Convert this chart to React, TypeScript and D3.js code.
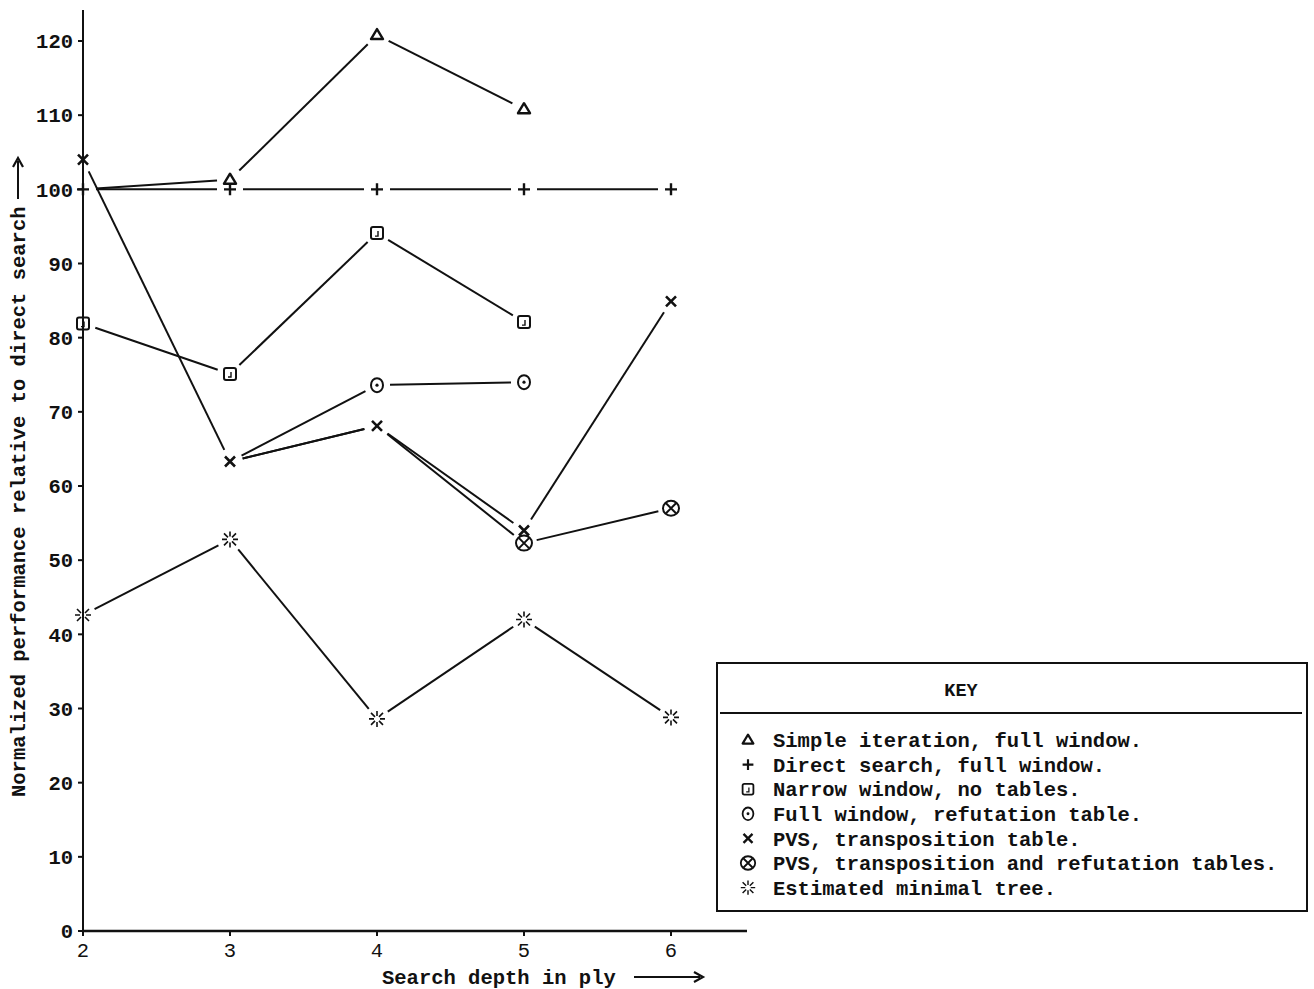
import React from 'react';
import * as d3 from 'd3';

// search depth (ply)
const depths = [2, 3, 4, 5, 6];
const yTicks = [0, 10, 20, 30, 40, 50, 60, 70, 80, 90, 100, 110, 120];

// normalized performance, null = not measured
const simpleIteration = [100, 101.3, 120.8, 110.8, null];
const directSearch = [100, 100, 100, 100, 100];
const narrowWindow = [81.9, 75.1, 94.1, 82.1, null];
const refutationTable = [null, 63.3, 73.6, 74.0, null];
const pvsTransposition = [104, 63.3, 68.1, 54.0, 84.9];
const pvsBothTables = [null, 63.3, 68.1, 52.3, 57.0];
const minimalTree = [42.6, 52.8, 28.6, 42.0, 28.8];

const legendLabels = [
  'Simple iteration, full window.',
  'Direct search, full window.',
  'Narrow window, no tables.',
  'Full window, refutation table.',
  'PVS, transposition table.',
  'PVS, transposition and refutation tables.',
  'Estimated minimal tree.',
];

const series = [
  { values: simpleIteration, marker: 'triangle', hidden: [2] },
  { values: directSearch, marker: 'plus', hidden: [] },
  { values: narrowWindow, marker: 'square', hidden: [] },
  { values: refutationTable, marker: 'circle', hidden: [3] },
  { values: pvsTransposition, marker: 'cross', hidden: [] },
  { values: pvsBothTables, marker: 'circlecross', hidden: [3, 4] },
  { values: minimalTree, marker: 'star', hidden: [] },
];

const FONT = '"Liberation Mono", "DejaVu Sans Mono", monospace';
const INK = '#111';
const FS = 20.5;

function Marker({ type, x, y, s = 1 }: { type: string; x: number; y: number; s?: number }) {
  const g = (children: React.ReactNode) => (
    <g transform={`translate(${x},${y}) scale(${s})`} stroke={INK} fill="none" strokeWidth={2}>
      {children}
    </g>
  );
  switch (type) {
    case 'triangle':
      return g(<path d="M0,-6 L6,4 L-6,4 Z" strokeLinejoin="round" strokeWidth={2.4} />);
    case 'plus':
      return g(<path d="M-6,0 H6 M0,-6 V6" strokeWidth={2.4} />);
    case 'square':
      return g(<>
        <rect x={-6} y={-6} width={12} height={12} rx={2} />
        <path d="M1,-2 V3 H-2" strokeWidth={1.4} />
      </>);
    case 'circle':
      return g(<>
        <ellipse rx={6} ry={7} />
        <circle r={1.6} fill={INK} stroke="none" />
      </>);
    case 'cross':
      return g(<path d="M-5,-5 L5,5 M5,-5 L-5,5" strokeWidth={2.6} />);
    case 'circlecross':
      return g(<>
        <ellipse rx={8} ry={7.5} />
        <path d="M-5,-5 L5,5 M5,-5 L-5,5" strokeWidth={2} />
      </>);
    case 'star':
      return g(<path
        d="M0,-8 V-3 M0,3 V8 M-8,0 H-3 M3,0 H8 M-6,-6 L-2,-2 M2,2 L6,6 M6,-6 L2,-2 M-2,2 L-6,6"
        strokeWidth={1.6} />);
    default:
      return null;
  }
}

export default function App() {
  const width = 1314;
  const height = 989;

  const x = d3.scaleLinear().domain([2, 6.5]).range([83, 744.5]);
  const y = d3.scaleLinear().domain([0, 120]).range([931, 41]);

  const gap = 13;
  const line = d3.line();
  const segs = (vals: (number | null)[]) => {
    const out: string[] = [];
    for (let i = 0; i < vals.length - 1; i++) {
      const a = vals[i], b = vals[i + 1];
      if (a == null || b == null) continue;
      const x1 = x(depths[i]), y1 = y(a), x2 = x(depths[i + 1]), y2 = y(b);
      const len = Math.hypot(x2 - x1, y2 - y1);
      const ux = (x2 - x1) / len, uy = (y2 - y1) / len;
      out.push(line([[x1 + ux * gap, y1 + uy * gap], [x2 - ux * gap, y2 - uy * gap]]) as string);
    }
    return out;
  };

  const legendX = 717, legendY = 663, legendW = 590, legendH = 248;

  return (
    <svg width={width} height={height} style={{ position: 'absolute', left: 0, top: 0, background: '#fff' }}
      fontFamily={FONT}>
      <rect width={width} height={height} fill="#fff" />

      {/* axes */}
      <line x1={x(2)} x2={x(2)} y1={10} y2={y(0)} stroke={INK} strokeWidth={2} />
      <line x1={x(2)} x2={747} y1={y(0)} y2={y(0)} stroke={INK} strokeWidth={2.5} />
      {yTicks.map(t => (
        <g key={t}>
          <line x1={x(2) - 5} x2={x(2)} y1={y(t)} y2={y(t)} stroke={INK} strokeWidth={2} />
          <text x={x(2) - 10} y={y(t)} dy="0.35em" textAnchor="end" fontSize={FS} fontWeight="bold" fill={INK}>{t}</text>
        </g>
      ))}
      {depths.map(d => (
        <g key={d}>
          <line x1={x(d)} x2={x(d)} y1={y(0)} y2={y(0) + 5} stroke={INK} strokeWidth={2} />
          <text x={x(d)} y={957} textAnchor="middle" fontSize={FS} fill={INK}>{d}</text>
        </g>
      ))}

      {/* axis titles */}
      <text x={382} y={984} fontSize={FS} fontWeight="bold" fill={INK}>Search depth in ply</text>
      <line x1={634} x2={700} y1={977} y2={977} stroke={INK} strokeWidth={2} />
      <path d="M694,972 L703,977 L694,982" stroke={INK} strokeWidth={2.2} fill="none" />

      <g transform="translate(25,797) rotate(-90)">
        <text x={0} y={0} fontSize={FS} fontWeight="bold" fill={INK}>Normalized performance relative to direct search</text>
        <line x1={598} x2={636} y1={-7} y2={-7} stroke={INK} strokeWidth={2} />
        <path d="M630,-12 L639,-7 L630,-2" stroke={INK} strokeWidth={2.2} fill="none" />
      </g>

      {/* series lines */}
      {series.map((s, i) => (
        <g key={i}>
          {segs(s.values).map((d, j) => (
            <path key={j} d={d} stroke={INK} strokeWidth={2} fill="none" />
          ))}
        </g>
      ))}

      {/* markers */}
      {series.map((s, i) => (
        <g key={i}>
          {s.values.map((v, j) => v == null || s.hidden.includes(depths[j]) ? null : (
            <Marker key={j} type={s.marker} x={x(depths[j])} y={y(v)} />
          ))}
        </g>
      ))}

      {/* legend */}
      <g>
        <rect x={legendX} y={legendY} width={legendW} height={legendH} fill="#fff" stroke={INK} strokeWidth={2} />
        <text x={961} y={legendY + 27} dy="0.35em" textAnchor="middle" fontSize={FS - 2} fontWeight="bold" fill={INK}>KEY</text>
        <line x1={legendX + 3} x2={legendX + legendW - 5} y1={legendY + 50} y2={legendY + 50} stroke={INK} strokeWidth={2} />
        {legendLabels.map((l, i) => {
          const cy = 740 + i * 24.6;
          return (
            <g key={i}>
              <Marker type={series[i].marker} x={748} y={cy} s={0.9} />
              <text x={773} y={cy} dy="0.35em" fontSize={FS} fontWeight="bold" fill={INK}>{l}</text>
            </g>
          );
        })}
      </g>
    </svg>
  );
}
